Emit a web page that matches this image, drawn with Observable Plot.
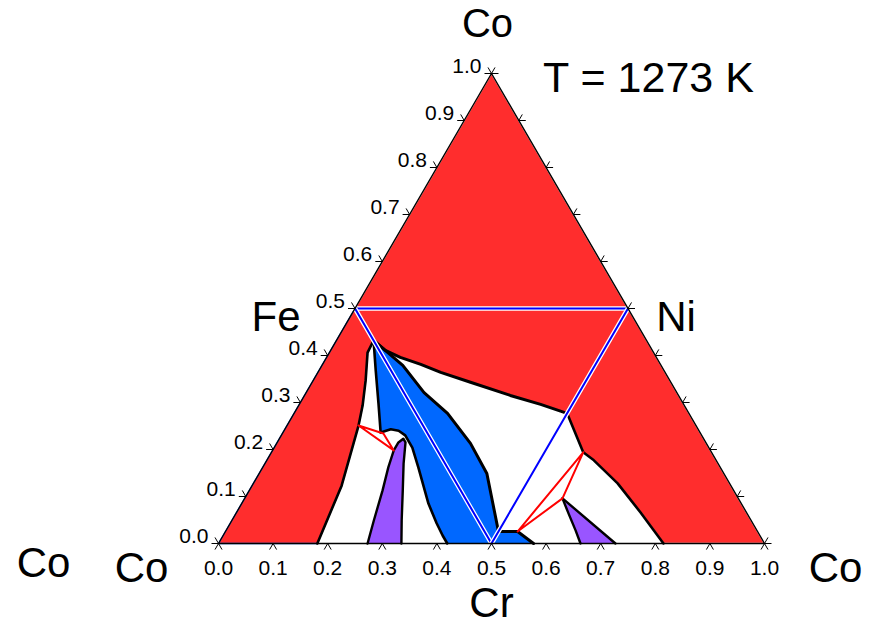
<!DOCTYPE html>
<html><head><meta charset="utf-8">
<script src="https://cdn.jsdelivr.net/npm/d3@7"></script>
<script src="https://cdn.jsdelivr.net/npm/@observablehq/plot@0.6"></script>
<style>body{margin:0;background:#fff}</style>
</head><body><div id="chart"></div>
<script>
// Compositions as [Cr fraction (bottom axis), Co fraction (left axis)]
const apexCo = [0, 1];
const fe = [0, 0.5];
const ni = [0.5, 0.5];
const cr50 = [0.5, 0];
const p1 = [0.068, 0.432];
const p2 = [0.5, 0.277];

const midCurve = [p1, [0.100, 0.411], [0.135, 0.396], [0.180, 0.381], [0.225, 0.364], [0.290, 0.343], [0.377, 0.315], [0.442, 0.296], p2];
const leftRedEdge = [p1, [0.070, 0.406], [0.096, 0.347], [0.117, 0.294], [0.131, 0.251], [0.164, 0.123], [0.181, 0]];
const rightRedEdge = [p2, [0.571, 0.194], [0.599, 0.177], [0.667, 0.128], [0.740, 0.066], [0.815, 0]];
const blueLeftEdge = [p1, [0.104, 0.368], [0.144, 0.298], [0.179, 0.236], [0.194, 0.243], [0.210, 0.240], [0.227, 0.230], [0.253, 0.204], [0.285, 0.162], [0.342, 0.085], [0.378, 0.043], [0.402, 0.017], [0.419, 0]];
const blueRightEdge = [p1, [0.148, 0.379], [0.216, 0.321], [0.281, 0.277], [0.355, 0.213], [0.417, 0.149], [0.460, 0.085], [0.5, 0.0255], [0.535, 0.0255], [0.577, 0]];
const purpleLeft = [[0.273, 0], [0.260, 0.049], [0.244, 0.113], [0.230, 0.162], [0.222, 0.198], [0.222, 0.215], [0.227, 0.223], [0.235, 0.215], [0.254, 0.170], [0.281, 0.113], [0.311, 0.049], [0.335, 0]];
const purpleRight = [[0.582, 0.096], [0.609, 0.064], [0.640, 0.028], [0.663, 0], [0.727, 0]];
const tieLeft = [[0.131, 0.251], [0.185, 0.234], [0.222, 0.198]];
const tieRight = [[0.571, 0.194], [0.582, 0.096], [0.535, 0.0255]];

const tickValues = [0, 0.1, 0.2, 0.3, 0.4, 0.5, 0.6, 0.7, 0.8, 0.9, 1.0];
const tickLabels = ["0.0", "0.1", "0.2", "0.3", "0.4", "0.5", "0.6", "0.7", "0.8", "0.9", "1.0"];
const title = "T = 1273 K";
const labelTop = "Co", labelFe = "Fe", labelNi = "Ni", labelCr = "Cr", labelCo = "Co";

// ---- layout ----
const xRange = [218, 764], yRange = [543, 73];
const px = 1 / (xRange[1] - xRange[0]);
const py = 1 / (yRange[0] - yRange[1]);
const toXY = ([cr, co]) => ({x: cr + co / 2, y: co});
const pts = (arr, close = false) => { const a = arr.map(toXY); if (close) a.push(a[0]); return a; };

const RED = "#ff2d2d", BLUE = "#0068ff", PURPLE = "#9955ff", JOIN = "#0000ff";
const fillPoly = (arr, fill, stroke = "white", sw = 1.4) =>
  Plot.line(pts(arr, true), {x: "x", y: "y", fill, stroke, strokeWidth: sw, strokeLinejoin: "round"});
const border = (arr, sw = 3, stroke = "black", close = false) =>
  Plot.line(pts(arr, close), {x: "x", y: "y", stroke, strokeWidth: sw, strokeLinejoin: "round", strokeLinecap: "round"});
const rev = (a) => a.slice().reverse();

const topTri = [apexCo, fe, ni];
const midBand = [fe, ni, ...rev(midCurve)];
const leftRed = [fe, [0, 0], ...rev(leftRedEdge)];
const rightRed = [ni, [1, 0], ...rev(rightRedEdge)];
const blueRegion = [...blueRightEdge, ...rev(blueLeftEdge)];

// tick segments (in data space, from pixel lengths)
const L = 7, c60 = 0.5, s60 = Math.sqrt(3) / 2;
const ticks = [];
for (const t of tickValues) {
  ticks.push({x1: t, y1: 0, x2: t - L * c60 * px, y2: -L * s60 * py});
  ticks.push({x1: t, y1: 0, x2: t + L * c60 * px, y2: -L * s60 * py});
  ticks.push({x1: t / 2, y1: t, x2: t / 2 - L * px, y2: t});
  ticks.push({x1: t / 2, y1: t, x2: t / 2 - L * c60 * px, y2: t + L * s60 * py});
  ticks.push({x1: 1 - t / 2, y1: t, x2: 1 - t / 2 + L * px, y2: t});
  ticks.push({x1: 1 - t / 2, y1: t, x2: 1 - t / 2 + L * c60 * px, y2: t + L * s60 * py});
}

const joinLine = (a, b) => [
  Plot.line(pts([a, b]), {x: "x", y: "y", stroke: "white", strokeWidth: 4.5}),
  Plot.line(pts([a, b]), {x: "x", y: "y", stroke: JOIN, strokeWidth: 2})
];

const big = {fontSize: 42, fill: "black"};

const chart = Plot.plot({
  width: 870, height: 625, margin: 0,
  style: {fontFamily: "'Liberation Sans', Arial, sans-serif", background: "white"},
  x: {domain: [0, 1], range: xRange, axis: null},
  y: {domain: [0, 1], range: yRange, axis: null},
  marks: [
    fillPoly(topTri, RED),
    fillPoly(midBand, RED),
    fillPoly(leftRed, RED, "#2a70ff", 1.4),
    fillPoly(rightRed, RED),
    Plot.line(pts(blueRegion, true), {x: "x", y: "y", fill: BLUE}),
    Plot.line(pts(purpleLeft, true), {x: "x", y: "y", fill: PURPLE}),
    Plot.line(pts(purpleRight, true), {x: "x", y: "y", fill: PURPLE}),
    border(midCurve, 3),
    border(leftRedEdge, 2.6),
    border(rightRedEdge, 2.6),
    border(blueLeftEdge, 2.6),
    border(blueRightEdge, 3),
    border(purpleLeft, 2.4),
    border(purpleRight.slice(0, 4), 2.4),
    border([purpleRight[0], purpleRight[4]], 2.4),
    ...joinLine(fe, ni),
    ...joinLine(fe, cr50),
    ...joinLine(ni, cr50),
    border(tieLeft, 2, "#ff0000", true),
    border(tieRight, 2, "#ff0000", true),
    Plot.line(pts([[0, 0], [1, 0], [0, 1]], true), {x: "x", y: "y", stroke: "black", strokeWidth: 1.4}),
    Plot.link(ticks, {x1: "x1", y1: "y1", x2: "x2", y2: "y2", stroke: "black", strokeWidth: 1}),
    Plot.text(tickValues, {x: (t) => t, y: () => 0, text: (t, i) => tickLabels[i], dy: 25, fontSize: 21}),
    Plot.text(tickValues, {x: (t) => t / 2, y: (t) => t, text: (t, i) => tickLabels[i], textAnchor: "end", dx: -10, dy: -7, fontSize: 21}),
    Plot.text([labelTop], {x: () => 0.5, y: () => 1, text: (d) => d, dx: -4, dy: -49, fontSize: 40}),
    Plot.text([title], {x: () => 0.5, y: () => 1, text: (d) => d, dx: 157, dy: 5, fontSize: 43}),
    Plot.text([labelFe], {x: () => 0.25, y: () => 0.5, text: (d) => d, dx: -79, dy: 9, ...big}),
    Plot.text([labelNi], {x: () => 0.75, y: () => 0.5, text: (d) => d, dx: 48, dy: 9, ...big}),
    Plot.text([labelCr], {x: () => 0.5, y: () => 0, text: (d) => d, dy: 60, ...big}),
    Plot.text([labelCo], {x: () => 0, y: () => 0, text: (d) => d, dx: -175, dy: 20, ...big}),
    Plot.text([labelCo], {x: () => 0, y: () => 0, text: (d) => d, dx: -77, dy: 25, ...big}),
    Plot.text([labelCo], {x: () => 1, y: () => 0, text: (d) => d, dx: 71, dy: 25, ...big})
  ]
});
document.getElementById("chart").appendChild(chart);
</script>
</body></html>
